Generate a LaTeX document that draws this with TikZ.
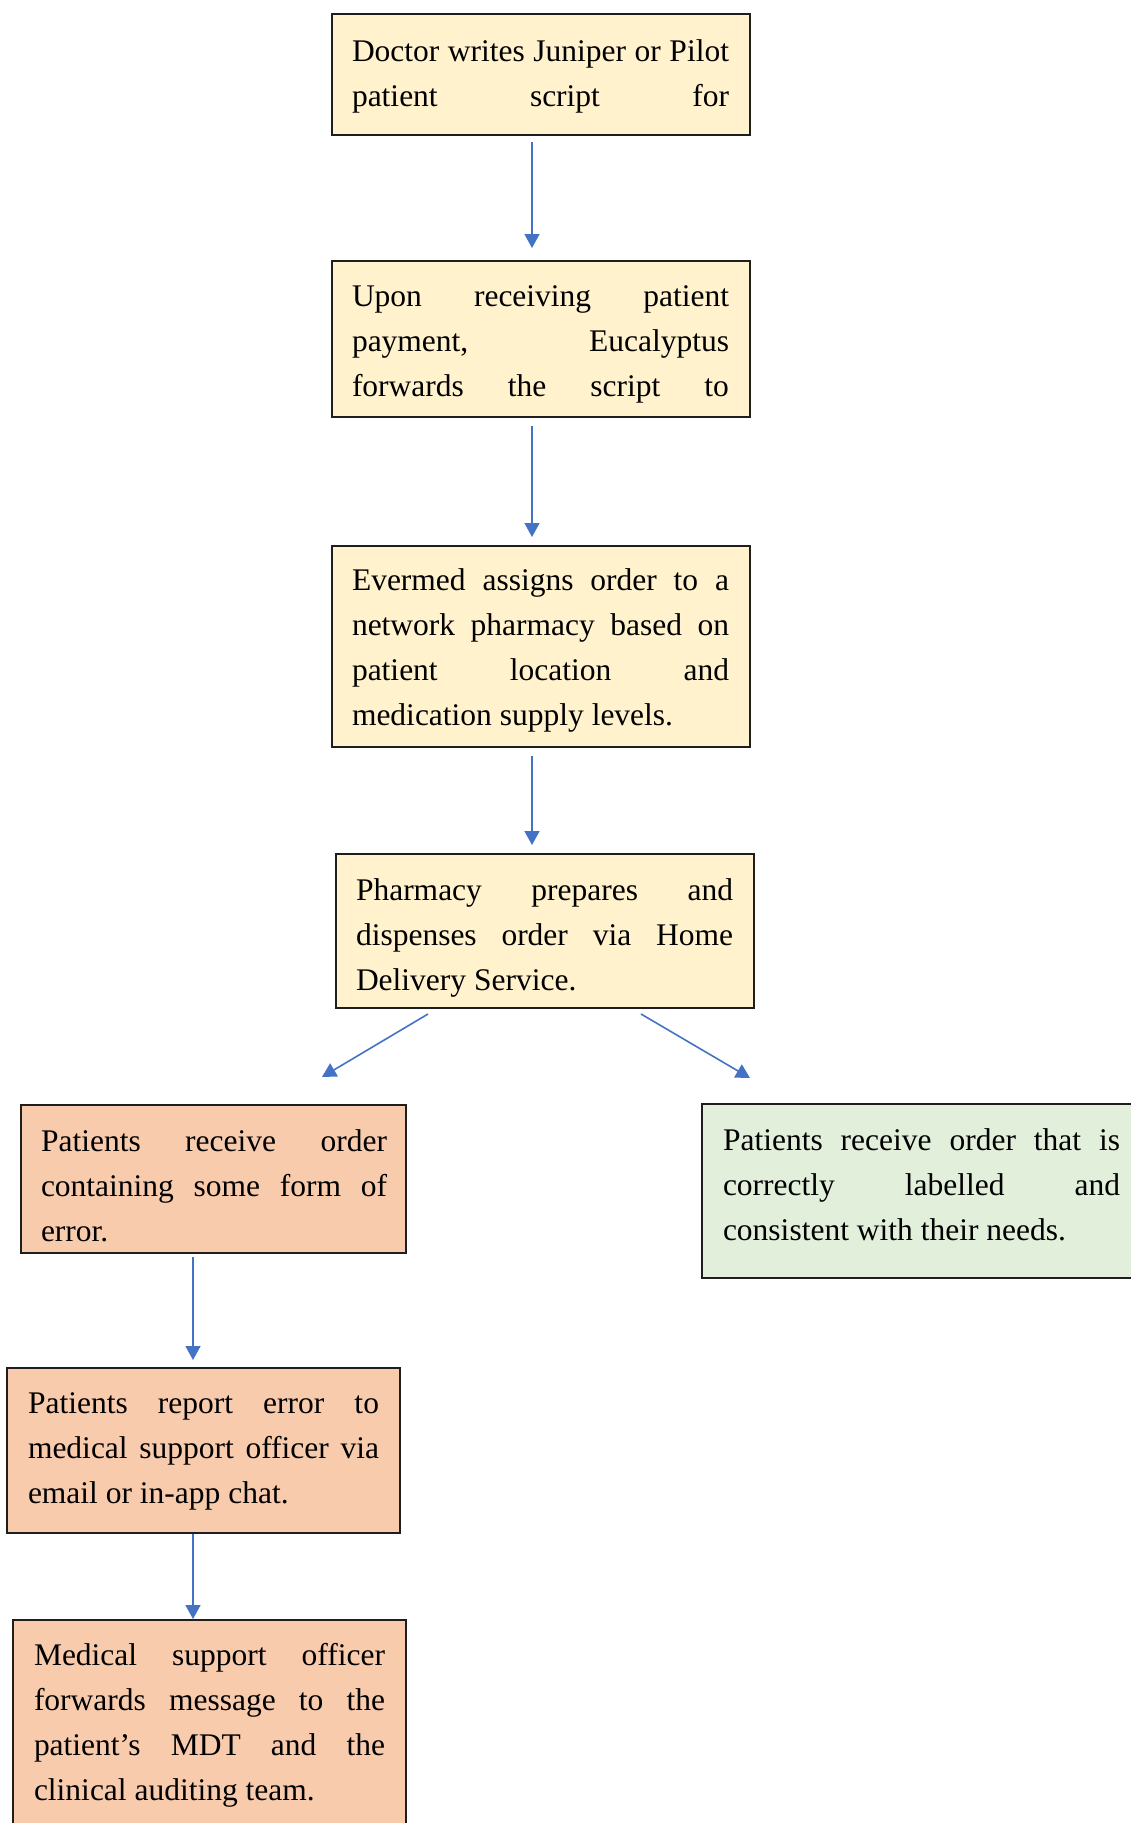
\documentclass[tikz,border=0pt]{standalone}
\usepackage{fontspec}
\setmainfont{Liberation Serif}
\usetikzlibrary{arrows.meta}
\definecolor{boxyellow}{HTML}{FFF2CC}
\definecolor{boxorange}{HTML}{F8CBAD}
\definecolor{boxgreen}{HTML}{E2EFDA}
\definecolor{arrowblue}{HTML}{4472C4}
\definecolor{edgegray}{HTML}{1E1E1E}
\tikzset{
  box/.style={draw=edgegray, line width=1.4pt, rectangle, inner sep=0pt, outer sep=0pt, anchor=north west},
  txt/.style={inner sep=0pt, outer sep=0pt, anchor=north west,
    font=\fontsize{31.5}{45}\selectfont},
  arr/.style={draw=arrowblue, line width=1.6pt, -{Triangle[width=15pt,length=14pt]}}
}
\newcommand{\parsetup}{\tolerance=10000\relax\hbadness=10000\relax\hyphenpenalty=10000\relax\exhyphenpenalty=10000\relax\parindent=0pt\relax\vrule width 0pt height 30pt depth 0pt\relax}
\newcommand{\fulllast}{\parfillskip=0pt\relax}
\newcommand{\tb}[2]{\parbox[t]{#1}{\parsetup #2}}
\begin{document}
\begin{tikzpicture}[x=1pt,y=-1pt]
\clip (0,0) rectangle (1131,1823);
\fill[white] (0,0) rectangle (1131,1823);
% boxes
\node[box, fill=boxyellow, minimum width=418pt, minimum height=121pt] (b1) at (332,14) {};
\node[box, fill=boxyellow, minimum width=418pt, minimum height=156pt] (b2) at (332,261) {};
\node[box, fill=boxyellow, minimum width=418pt, minimum height=201pt] (b3) at (332,546) {};
\node[box, fill=boxyellow, minimum width=418pt, minimum height=154pt] (b4) at (336,854) {};
\node[box, fill=boxorange, minimum width=385pt, minimum height=148pt] (b5) at (21,1105) {};
\node[box, fill=boxgreen, minimum width=440pt, minimum height=174pt] (b6) at (702,1104) {};
\node[box, fill=boxorange, minimum width=393pt, minimum height=165pt] (b7) at (7,1368) {};
\node[box, fill=boxorange, minimum width=393pt, minimum height=240pt] (b8) at (13,1620) {};
% texts
\node[txt] (t1) at (352,31) {\tb{377pt}{\fulllast Doctor writes Juniper or Pilot\linebreak patient script for}};
\node[txt] (t2) at (352,276) {\tb{377pt}{\fulllast Upon receiving patient\linebreak payment, Eucalyptus\linebreak forwards the script to}};
\node[txt] (t3) at (352,560) {\tb{377pt}{Evermed assigns order to a\linebreak network pharmacy based on\linebreak patient location and\linebreak medication supply levels.}};
\node[txt] (t4) at (356,870) {\tb{377pt}{Pharmacy prepares and\linebreak dispenses order via Home\linebreak Delivery Service.}};
\node[txt] (t5) at (41,1121) {\tb{346pt}{Patients receive order\linebreak containing some form of\linebreak error.}};
\node[txt] (t6) at (723,1120) {\tb{397pt}{Patients receive order that is\linebreak correctly labelled and\linebreak consistent with their needs.}};
\node[txt] (t7) at (28,1383) {\tb{351pt}{Patients report error to\linebreak medical support officer via\linebreak email or in-app chat.}};
\node[txt] (t8) at (34,1635) {\tb{351pt}{Medical support officer\linebreak forwards message to the\linebreak patient’s MDT and the\linebreak clinical auditing team.}};
% connectors
\draw[arr] ([shift={(200,7)}]b1.south west) -- ([shift={(200,-13)}]b2.north west);
\draw[arr] ([shift={(200,9)}]b2.south west) -- ([shift={(200,-9)}]b3.north west);
\draw[arr] ([shift={(200,9)}]b3.south west) -- ([shift={(196,-9)}]b4.north west);
\draw[arr] ([shift={(92,6)}]b4.south west) -- ([shift={(301,-28)}]b5.north west);
\draw[arr] ([shift={(305,6)}]b4.south west) -- ([shift={(48,-26)}]b6.north west);
\draw[arr] ([shift={(172,4)}]b5.south west) -- ([shift={(186,-8)}]b7.north west);
\draw[arr] ([shift={(186,1)}]b7.south west) -- ([shift={(180,-1)}]b8.north west);
\end{tikzpicture}
\end{document}
